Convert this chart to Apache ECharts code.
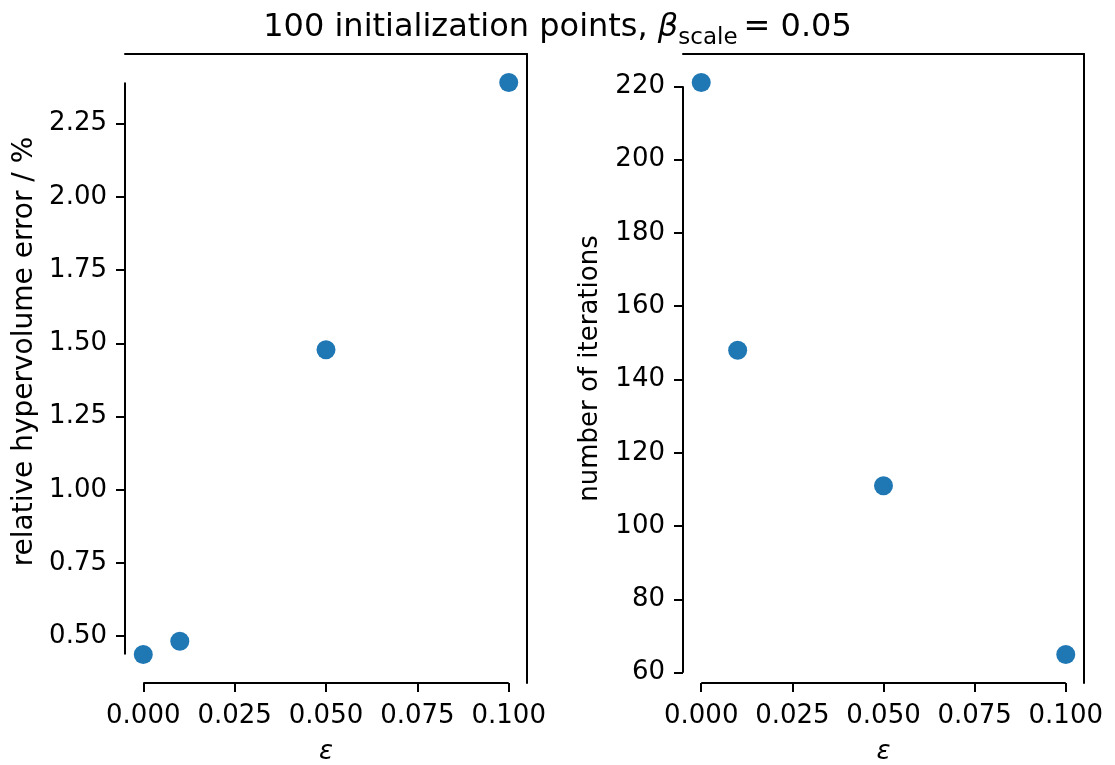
<!DOCTYPE html>
<html>
<head>
<meta charset="utf-8">
<script src="https://cdn.jsdelivr.net/npm/echarts@6/dist/echarts.min.js"></script>
<style>
html,body{margin:0;padding:0;background:#fff;}
#chart{width:1115px;height:765px;}
</style>
</head>
<body>
<div id="chart"></div>
<script>
// ---- data ----
const epsilon = [0.0, 0.01, 0.05, 0.1];
const hvError = [0.438, 0.483, 1.478, 2.39];
const iterations = [221, 148, 111, 65];
const xTicks = [0.0, 0.025, 0.05, 0.075, 0.1];
const yTicksLeft = [0.5, 0.75, 1.0, 1.25, 1.5, 1.75, 2.0, 2.25];
const yTicksRight = [60, 80, 100, 120, 140, 160, 180, 200, 220];

// ---- layout helpers ----
function padded(arr, f) {
  const lo = Math.min(...arr), hi = Math.max(...arr), d = (hi - lo) * f;
  return [lo - d, hi + d];
}
const [xMin, xMax] = padded(epsilon, 0.05);
const [yLMin, yLMax] = padded(hvError, 0.05);
const [yRMin, yRMax] = padded(iterations, 0.05);

const FONT = 'DejaVu Sans';
const FS = 26;
const BLUE = '#1f77b4';
const LW = 2;
const TICK = 9;

function mainX(gi) {
  return {
    type: 'value', gridIndex: gi, min: xMin, max: xMax, position: 'bottom',
    axisLine: { show: false, onZero: false },
    axisTick: { show: true, customValues: xTicks, length: TICK, lineStyle: { color: '#000', width: LW } },
    axisLabel: { show: true, customValues: xTicks, margin: 20, fontFamily: FONT, fontSize: FS, color: '#000',
      formatter: v => v.toFixed(3) },
    splitLine: { show: false },
    name: 'ε', nameLocation: 'middle', nameGap: 56,
    nameTextStyle: { fontFamily: FONT, fontSize: FS, fontStyle: 'italic', color: '#000' }
  };
}
function spineX(gi) {
  return {
    type: 'value', gridIndex: gi, min: 0, max: 1, position: 'top',
    axisLine: { show: true, onZero: false, lineStyle: { color: '#000', width: LW } },
    axisTick: { show: false }, axisLabel: { show: false }, splitLine: { show: false }
  };
}
function mainY(gi, mn, mx, ticks, fmt, name, gap, nameFs, namePad) {
  return {
    type: 'value', gridIndex: gi, min: mn, max: mx, position: 'left',
    axisLine: { show: false, onZero: false },
    axisTick: { show: true, customValues: ticks, length: TICK, lineStyle: { color: '#000', width: LW } },
    axisLabel: { show: true, customValues: ticks, margin: 18, fontFamily: FONT, fontSize: FS, color: '#000',
      formatter: fmt },
    splitLine: { show: false },
    name: name, nameLocation: 'middle', nameGap: gap,
    nameTextStyle: { fontFamily: FONT, fontSize: nameFs, color: '#000', padding: namePad }
  };
}
function spineY(gi) {
  return {
    type: 'value', gridIndex: gi, min: 0, max: 1, position: 'right',
    axisLine: { show: true, onZero: false, lineStyle: { color: '#000', width: LW } },
    axisTick: { show: false }, axisLabel: { show: false }, splitLine: { show: false }
  };
}
function spineLine(xi, yi, pts) {
  return {
    type: 'line', xAxisIndex: xi, yAxisIndex: yi, data: pts, symbol: 'none', clip: false,
    lineStyle: { color: '#000', width: LW }, silent: true, z: 1
  };
}

const option = {
  animation: false,
  backgroundColor: '#fff',
  title: {
    text: '{n|100 initialization points, }{b|β}{s|scale}{n|= 0.05}',
    left: 'center', top: 7,
    textStyle: {
      fontWeight: 'normal',
      rich: {
        n: { fontFamily: FONT, fontSize: 32, fontWeight: 'normal', color: '#000', verticalAlign: 'top' },
        b: { fontFamily: FONT, fontSize: 32, fontWeight: 'normal', fontStyle: 'italic', color: '#000', verticalAlign: 'top' },
        s: { fontFamily: FONT, fontSize: 23, fontWeight: 'normal', color: '#000', verticalAlign: 'top', padding: [15, 6, 0, 0] }
      }
    }
  },
  grid: [
    { left: 125, top: 54, width: 402, height: 629, containLabel: false, outerBoundsMode: 'none' },
    { left: 683, top: 54, width: 401, height: 629, containLabel: false, outerBoundsMode: 'none' }
  ],
  xAxis: [mainX(0), spineX(0), mainX(1), spineX(1)],
  yAxis: [
    mainY(0, yLMin, yLMax, yTicksLeft, v => v.toFixed(2), 'relative hypervolume error / %', 86, 28, [0, 0, 0, 34]),
    spineY(0),
    mainY(1, yRMin, yRMax, yTicksRight, v => String(Math.round(v)), 'number of iterations', 80, 26, [0, 0, 0, 0]),
    spineY(1)
  ],
  series: [
    spineLine(0, 0, [[xMin, Math.min(...hvError)], [xMin, Math.max(...hvError)]]),
    spineLine(0, 0, [[xTicks[0], yLMin], [xTicks[xTicks.length - 1], yLMin]]),
    spineLine(2, 2, [[xMin, yTicksRight[0]], [xMin, yTicksRight[yTicksRight.length - 1]]]),
    spineLine(2, 2, [[xTicks[0], yRMin], [xTicks[xTicks.length - 1], yRMin]]),
    {
      type: 'scatter', xAxisIndex: 0, yAxisIndex: 0, symbolSize: 19, clip: false, z: 3,
      itemStyle: { color: BLUE, opacity: 1 },
      data: epsilon.map((x, i) => [x, hvError[i]])
    },
    {
      type: 'scatter', xAxisIndex: 2, yAxisIndex: 2, symbolSize: 19, clip: false, z: 3,
      itemStyle: { color: BLUE, opacity: 1 },
      data: epsilon.map((x, i) => [x, iterations[i]])
    }
  ]
};
const chart = echarts.init(document.getElementById('chart'), null, { renderer: 'canvas' });
chart.setOption(option);
</script>
</body>
</html>
